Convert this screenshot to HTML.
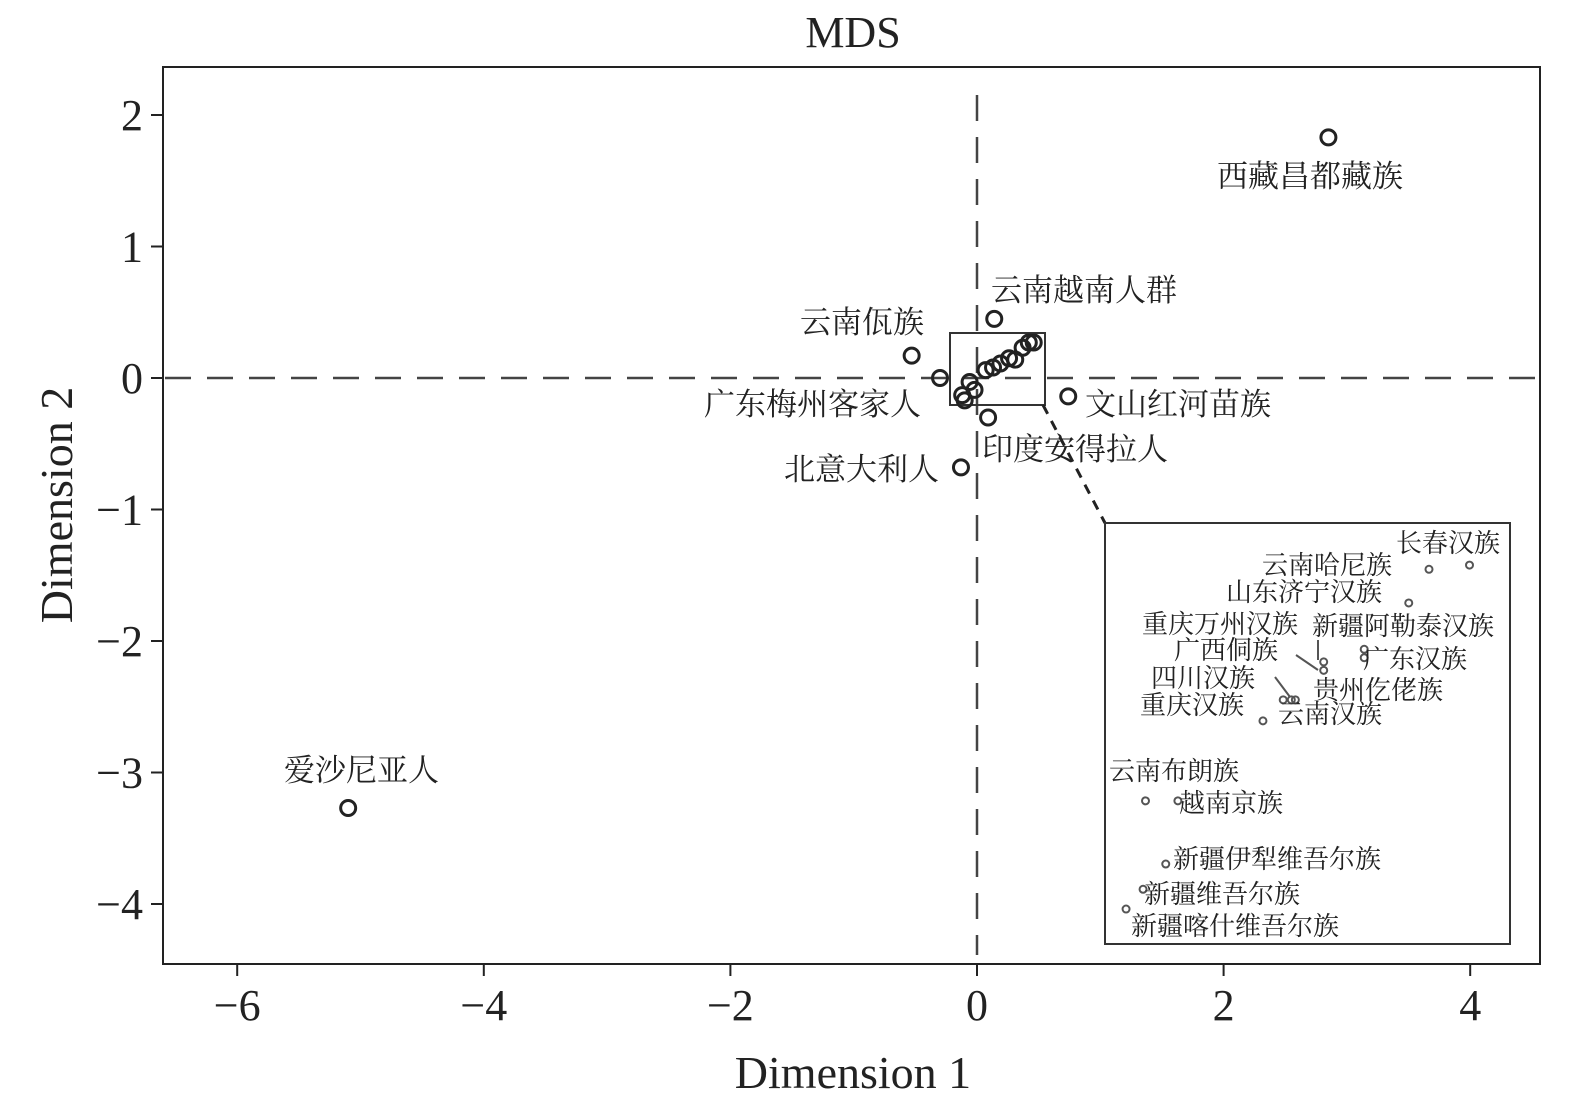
<!DOCTYPE html>
<html><head><meta charset="utf-8"><style>
body{margin:0;background:#fff}
svg text{font-family:"Liberation Serif","Noto Serif CJK SC","Noto Sans CJK SC",serif;fill:#222}
</style></head><body>
<svg id="c" width="1575" height="1114" xmlns="http://www.w3.org/2000/svg"></svg>
<script>
// main chart data
const mainNames=["西藏昌都藏族","云南越南人群","云南佤族","","文山红河苗族","印度安得拉人","北意大利人","爱沙尼亚人"];
const mainX=[2.85,0.14,-0.53,-0.30,0.74,0.09,-0.13,-5.10];
const mainY=[1.83,0.45,0.17,0.0,-0.14,-0.30,-0.68,-3.27];
const clusterX=[-0.06,-0.02,-0.10,-0.12,0.13,0.19,0.26,0.31,0.37,0.46,0.42,0.07];
const clusterY=[-0.03,-0.09,-0.17,-0.13,0.08,0.11,0.15,0.14,0.23,0.27,0.27,0.06];
const xTicks=[-6,-4,-2,0,2,4];
const yTicks=[2,1,0,-1,-2,-3,-4];
// inset data (inset-local scale 0..10)
const insetNames=["长春汉族","云南哈尼族","山东济宁汉族","新疆阿勒泰汉族","广东汉族","重庆万州汉族","广西侗族","四川汉族","贵州仡佬族","云南汉族","重庆汉族","云南布朗族","越南京族","新疆伊犁维吾尔族","新疆维吾尔族","新疆喀什维吾尔族"];
const insetX=[9.0,8.0,7.5,6.4,6.4,5.4,5.4,4.4,4.6,4.7,3.9,1.0,1.8,1.5,0.94,0.52];
const insetY=[9.0,8.9,8.1,7.0,6.8,6.7,6.5,5.8,5.8,5.8,5.3,3.4,3.4,1.9,1.3,0.83];

const NS="http://www.w3.org/2000/svg",svg=document.getElementById('c');
function mk(t,a,p){const e=document.createElementNS(NS,t);for(const k in a)e.setAttribute(k,a[k]);(p||svg).appendChild(e);return e;}
const sx=v=>977+v*123.3, sy=v=>378-v*131.5;
const ix=v=>1105+v*40.5, iy=v=>944-v*42.1;

let e;
e=mk('text',{x:853,y:47,'font-size':44,'text-anchor':'middle'});e.textContent='MDS';


e=mk('rect',{x:163,y:67,width:1377,height:897,fill:'none',stroke:'#222','stroke-width':2});


e=mk('line',{x1:sx(0),y1:95,x2:sx(0),y2:955,stroke:'#444','stroke-width':2.5,'stroke-dasharray':'26,16'});


e=mk('line',{x1:165,y1:sy(0),x2:1540,y2:sy(0),stroke:'#444','stroke-width':2.5,'stroke-dasharray':'26,16'});


xTicks.forEach(t=>{
  mk('line',{x1:sx(t),y1:964,x2:sx(t),y2:976,stroke:'#222','stroke-width':2});
  e=mk('text',{x:sx(t),y:1020,'font-size':44,'text-anchor':'middle'});e.textContent=(t<0?'−':'')+Math.abs(t);
  
  
});
yTicks.forEach(t=>{
  mk('line',{x1:151,y1:sy(t),x2:163,y2:sy(t),stroke:'#222','stroke-width':2});
  e=mk('text',{x:143,y:sy(t)+15,'font-size':44,'text-anchor':'end'});e.textContent=(t<0?'−':'')+Math.abs(t);
  
  
});
e=mk('text',{x:853,y:1088,'font-size':46,'text-anchor':'middle'});e.textContent='Dimension 1';


e=mk('text',{x:0,y:0,'font-size':46,'text-anchor':'middle',transform:'translate(72,505) rotate(-90)'});e.textContent='Dimension 2';


e=mk('rect',{x:950,y:333,width:95,height:72,fill:'none',stroke:'#333','stroke-width':2});


e=mk('line',{x1:1043,y1:405,x2:1105,y2:523,stroke:'#222','stroke-width':3,'stroke-dasharray':'10,8'});


clusterX.forEach((v,i)=>{
  e=mk('circle',{cx:sx(v),cy:sy(clusterY[i]),r:7.5,fill:'none',stroke:'#222','stroke-width':3});
  
  
});
mainX.forEach((v,i)=>{
  e=mk('circle',{cx:sx(v),cy:sy(mainY[i]),r:7.5,fill:'none',stroke:'#222','stroke-width':3});
  
  
});
const mainLab=[[1217,176],[991,290],[800,322],null,[1085,404],[982,449],[784,469],[284,770]];
const mainLab2=[["广东梅州客家人",704,404]];
mainNames.forEach((n,i)=>{ if(!mainLab[i])return;
  e=mk('text',{x:mainLab[i][0],y:mainLab[i][1]+11,'font-size':31});e.textContent=n;
  
  
});
mainLab2.forEach(l=>{
  e=mk('text',{x:l[1],y:l[2]+11,'font-size':31});e.textContent=l[0];
  
  
});
e=mk('rect',{x:1105,y:523,width:405,height:421,fill:'#fff',stroke:'#333','stroke-width':2});


[[1318,640,1318,660],[1296,655,1318,670],[1275,677,1290,697]].forEach(l=>{
  e=mk('line',{x1:l[0],y1:l[1],x2:l[2],y2:l[3],stroke:'#555','stroke-width':2});
  
  
});
insetX.forEach((v,i)=>{
  e=mk('circle',{cx:ix(v),cy:iy(insetY[i]),r:3.5,fill:'none',stroke:'#555','stroke-width':2});
  
  
});
const insetLab=[[1396,543],[1262,565],[1226,592],[1312,626],[1363,659],[1142,624],[1174,650],[1151,678],[1313,690],[1278,714],[1140,705],[1109,771],[1179,803],[1173,859],[1144,894],[1131,926]];
insetNames.forEach((n,i)=>{
  e=mk('text',{x:insetLab[i][0],y:insetLab[i][1]+9,'font-size':26});e.textContent=n;
  
  
});
</script>
</body></html>
